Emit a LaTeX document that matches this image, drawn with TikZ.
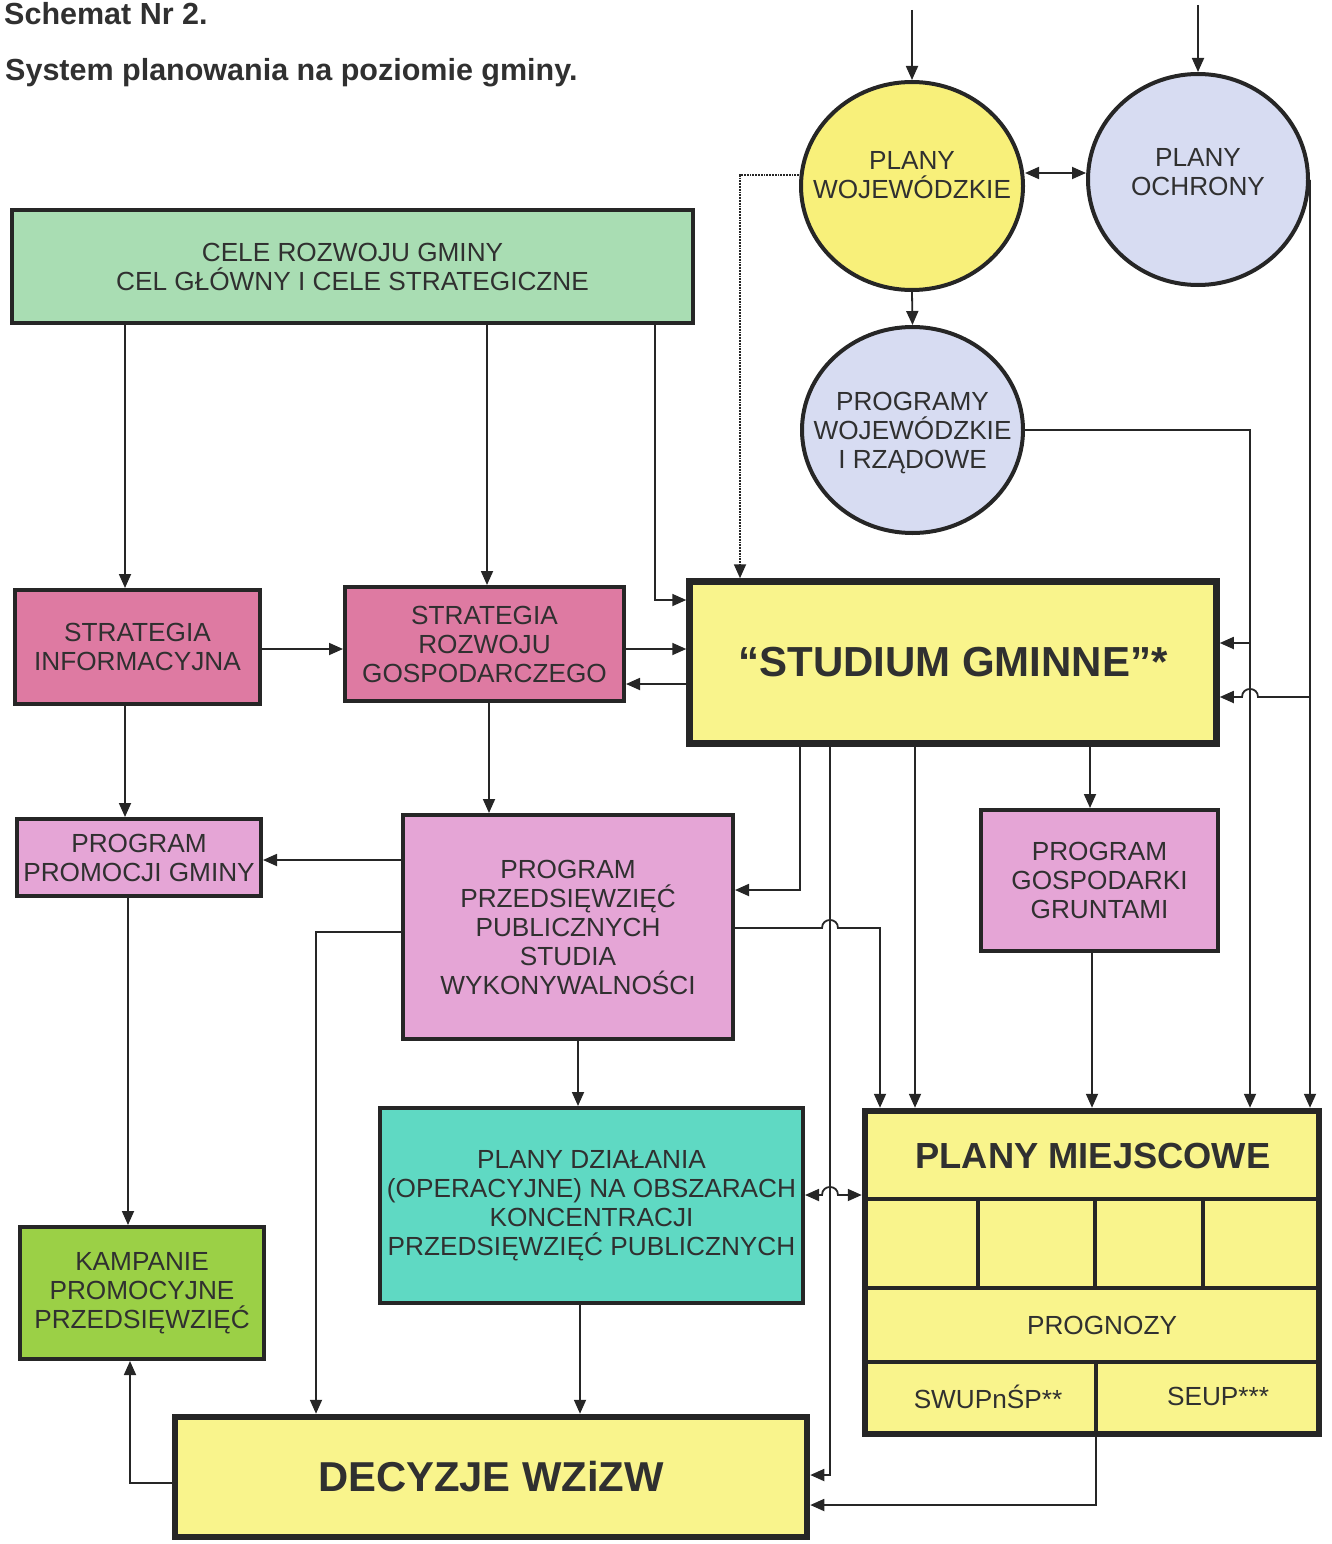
\documentclass[tikz,border=0pt]{standalone}
\usepackage{fontspec}
\setmainfont{Liberation Sans}
\usetikzlibrary{arrows.meta,shapes.geometric,calc}
\definecolor{celeg}{HTML}{A9DDB3}
\definecolor{stratp}{HTML}{DE7AA2}
\definecolor{progp}{HTML}{E5A5D6}
\definecolor{studY}{HTML}{F9F48C}
\definecolor{dzialT}{HTML}{5FD9C3}
\definecolor{kampG}{HTML}{9BD046}
\definecolor{pwY}{HTML}{F8F07A}
\definecolor{lav}{HTML}{D7DCF2}
\definecolor{txtc}{HTML}{303030}
\definecolor{linec}{HTML}{262626}
\newcommand\fnorm{\fontsize{26.2}{29}\selectfont}
\newcommand\fstud{\bfseries\fontsize{42}{48}\selectfont}
\newcommand\fpm{\bfseries\fontsize{36.3}{42}\selectfont}
\newcommand\fdec{\bfseries\fontsize{41.8}{48}\selectfont}
\newcommand\ftitle{\bfseries\fontsize{30.5}{36}\selectfont}
\begin{document}
\begin{tikzpicture}[x=1pt,y=-1pt,
  box/.style={draw=linec, line width=4pt, text=txtc, align=center, font=\fnorm, inner sep=0pt},
  thickbox/.style={box, line width=6.5pt},
  oval/.style={box, ellipse},
  arr/.style={draw=linec, line width=1.8pt, -{Triangle[length=14pt,width=12pt]}},
  darr/.style={draw=linec, line width=1.8pt, {Triangle[length=14pt,width=12pt]}-{Triangle[length=14pt,width=12pt]}},
  inner/.style={draw=linec, line width=3.5pt},
  lbl/.style={text=txtc, align=center, inner sep=0pt}]
\useasboundingbox (0,0) rectangle (1331,1544);

% titles
\node[lbl, anchor=base west, font=\ftitle] (t1) at (4,25) {Schemat Nr 2.};
\node[lbl, anchor=base west, font=\ftitle] (t2) at (5,81) {System planowania na poziomie gminy.};

% ovals
\node[oval, fill=pwY, minimum width=222pt, minimum height=208pt] (pw) at (912,186) {};
\node[lbl, font=\fnorm] (pwt) at (912,175) {PLANY\\WOJEWÓDZKIE};
\node[oval, fill=lav, minimum width=220pt, minimum height=211pt] (po) at (1198,179.5) {};
\node[lbl, font=\fnorm] (pot) at (1198,172) {PLANY\\OCHRONY};
\node[oval, fill=lav, minimum width=221pt, minimum height=206pt] (pr) at (912.5,430) {};
\node[lbl, font=\fnorm] (prt) at (912.5,433) {PROGRAMY\\WOJEWÓDZKIE\\I RZĄDOWE};

% boxes
\node[box, fill=celeg, minimum width=681pt, minimum height=113pt] (cele) at (352.5,266.5) {CELE ROZWOJU GMINY\\CEL GŁÓWNY I CELE STRATEGICZNE};
\node[box, fill=stratp, minimum width=245pt, minimum height=114pt] (sinfo) at (137.5,647) {STRATEGIA\\INFORMACYJNA};
\node[box, fill=stratp, minimum width=279pt, minimum height=114pt] (sroz) at (484.5,644) {STRATEGIA\\ROZWOJU\\GOSPODARCZEGO};
\node[thickbox, fill=studY, minimum width=527pt, minimum height=162pt, font=\fstud] (stud) at (953,662.5) {“STUDIUM GMINNE”*};
\node[box, fill=progp, minimum width=244pt, minimum height=77pt] (prom) at (139,857.5) {PROGRAM\\PROMOCJI GMINY};
\node[box, fill=progp, minimum width=330pt, minimum height=224pt] (przeds) at (568,927) {PROGRAM\\PRZEDSIĘWZIĘĆ\\PUBLICZNYCH\\STUDIA\\WYKONYWALNOŚCI};
\node[box, fill=progp, minimum width=237pt, minimum height=141pt] (gosp) at (1099.5,880.5) {PROGRAM\\GOSPODARKI\\GRUNTAMI};
\node[box, fill=dzialT, minimum width=423pt, minimum height=195pt] (dzial) at (591.5,1205.5) {PLANY DZIAŁANIA\\(OPERACYJNE) NA OBSZARACH\\KONCENTRACJI\\PRZEDSIĘWZIĘĆ PUBLICZNYCH};
\node[box, fill=kampG, minimum width=244pt, minimum height=132pt] (kamp) at (142,1293) {KAMPANIE\\PROMOCYJNE\\PRZEDSIĘWZIĘĆ};
\node[thickbox, fill=studY, minimum width=632pt, minimum height=120pt, font=\fdec] (decy) at (491,1477) {DECYZJE WZiZW};
\node[thickbox, fill=studY, minimum width=454pt, minimum height=323pt] (pm) at (1092,1272.5) {};

% rows and columns
\foreach \n/\v in {c125/125,c128/128,c130/130,c316/316,c487/487,c489/489,c578/578,c580/580,c655/655,c740/740,c800/800,c830/830,c880/880,c915/915,c978/978,c1090/1090,c1092/1092,c1095/1095,c1096/1096,c1203/1203,c1250/1250}
  \coordinate (\n) at (\v,0);
\foreach \n/\v in {r173/173,r175/175,r600/600,r643/643,r649/649,r684/684,r697/697,r860/860,r890/890,r928/928,r932/932,r1195/1195,r1199/1199,r1288/1288,r1362/1362,r1475/1475,r1483/1483,r1505/1505}
  \coordinate (\n) at (0,\v);
\coordinate (tpw) at (912,10);
\coordinate (tpo) at (1198,5);
\coordinate (H1) at (c1250 |- r697);
\coordinate (H2) at (c830 |- r928);
\coordinate (H3) at (c830 |- r1195);

% PLANY MIEJSCOWE inner structure
\draw[inner] (pm.west |- r1199) -- (pm.east |- r1199);
\draw[inner] (pm.west |- r1288) -- (pm.east |- r1288);
\draw[inner] (pm.west |- r1362) -- (pm.east |- r1362);
\draw[inner] (c978 |- r1199) -- (c978 |- r1288);
\draw[inner] (c1095 |- r1199) -- (c1095 |- r1288);
\draw[inner] (c1203 |- r1199) -- (c1203 |- r1288);
\draw[inner] (c1096 |- r1362) -- (pm.south -| c1096);
\node[lbl, font=\fpm] (pmt) at (1093,1156) {PLANY MIEJSCOWE};
\node[lbl, font=\fnorm] (prog) at (1102,1325) {PROGNOZY};
\node[lbl, font=\fnorm] (swup) at (988,1397) {SWUPnŚP**};
\node[lbl, font=\fnorm] (seup) at (1218,1396) {SEUP***};

% connectors: regional level
\draw[arr] (tpw) -- (pw.north);
\draw[arr] (tpo) -- (po.north);
\draw[darr] (pw.east |- r173) -- (po.west |- r173);
\draw[arr] (pw.south) -- (pr.north);
\draw[arr, densely dotted] (pw.west |- r175) -| (stud.north -| c740);
\draw[arr] (po.east) -- (po.east |- pm.north);
\draw[arr] (po.east |- r697) -- ($(H1)+(8,0)$) .. controls ($(H1)+(8,-10.7)$) and ($(H1)+(-8,-10.7)$) .. ($(H1)+(-8,0)$) -- (stud.east |- r697);
\draw[arr] (pr.east) -| (pm.north -| c1250);
\draw[arr] (c1250 |- r643) -- (stud.east |- r643);

% connectors: upper left
\draw[arr] (cele.south -| c125) -- (sinfo.north -| c125);
\draw[arr] (cele.south -| c487) -- (sroz.north -| c487);
\draw[arr] (cele.south -| c655) |- (stud.west |- r600);
\draw[arr] (sinfo.east |- r649) -- (sroz.west |- r649);
\draw[arr] (sroz.east |- r649) -- (stud.west |- r649);
\draw[arr] (stud.west |- r684) -- (sroz.east |- r684);
\draw[arr] (sinfo.south -| c125) -- (prom.north -| c125);
\draw[arr] (sroz.south -| c489) -- (przeds.north -| c489);
\draw[arr] (przeds.west |- r860) -- (prom.east |- r860);
\draw[arr] (prom.south -| c128) -- (kamp.north -| c128);
\draw[arr] (przeds.west |- r932) -| (decy.north -| c316);
\draw[arr] (przeds.south -| c578) -- (dzial.north -| c578);
\draw[arr] (dzial.south -| c580) -- (decy.north -| c580);
\draw[arr] (decy.west |- r1483) -| (kamp.south -| c130);

% connectors: from studium
\draw[arr] (stud.south -| c800) |- (przeds.east |- r890);
\draw[arr] (stud.south -| c830) |- (decy.east |- r1475);
\draw[arr] (stud.south -| c915) -- (pm.north -| c915);
\draw[arr] (stud.south -| c1090) -- (gosp.north -| c1090);
\draw[arr] (gosp.south -| c1092) -- (pm.north -| c1092);
\draw[arr] (przeds.east |- r928) -- ($(H2)+(-8,0)$) .. controls ($(H2)+(-8,-10.7)$) and ($(H2)+(8,-10.7)$) .. ($(H2)+(8,0)$) -| (pm.north -| c880);
\draw[darr] (dzial.east |- r1195) -- ($(H3)+(-8,0)$) .. controls ($(H3)+(-8,-10.7)$) and ($(H3)+(8,-10.7)$) .. ($(H3)+(8,0)$) -- (pm.west |- r1195);
\draw[arr] (pm.south -| c1096) |- (decy.east |- r1505);
\end{tikzpicture}
\end{document}
